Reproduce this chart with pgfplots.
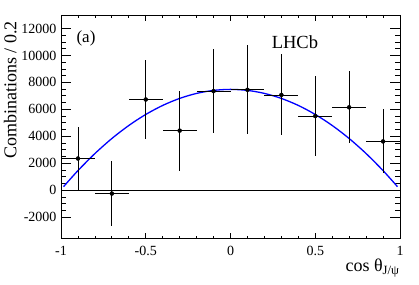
\documentclass[border=0pt]{standalone}
\usepackage{fontspec}
\setmainfont{Liberation Serif}
\usepackage{pgfplots}
\usepackage{pgfplotstable}
\pgfplotsset{compat=1.18}

\pgfplotstableread{
x     y     ex   ey
-0.9  2350  0.1  2330
-0.7  -250  0.1  2420
-0.5  6730  0.1  2950
-0.3  4420  0.1  2970
-0.1  7350  0.1  3100
0.1   7450  0.1  3300
0.3   7070  0.1  3010
0.5   5500  0.1  2960
0.7   6150  0.1  2680
0.9   3620  0.1  2380
}\datatable

\begin{document}
\begin{tikzpicture}
\useasboundingbox (-61pt,-45.3pt) rectangle (358pt,238.7pt);
\begin{axis}[
  at={(0,0)}, anchor=south west,
  scale only axis,
  width=339pt, height=223.7pt,
  xmin=-1, xmax=1,
  ymin=-3600, ymax=13000,
  xtick={-1,-0.5,0,0.5,1},
  xticklabels={-1,-0.5,0,0.5,1},
  ytick={-2000,0,2000,4000,6000,8000,10000,12000},
  yticklabels={-2000,0,2000,4000,6000,8000,10000,12000},
  minor x tick num=4,
  minor y tick num=3,
  scaled y ticks=false,
  tick align=inside,
  axis line style={line width=0.9pt},
  every tick/.style={black, line width=0.8pt},
  xtick style={/pgfplots/major tick length=6pt, /pgfplots/minor tick length=3pt},
  ytick style={/pgfplots/major tick length=10pt, /pgfplots/minor tick length=5pt},
  tick label style={font=\fontsize{14}{14}\selectfont},
  xticklabel style={yshift=-4pt},
  yticklabel style={xshift=-1pt},
  xlabel={cos θ\textsubscript{J/ψ}},
  xlabel style={font=\fontsize{18}{18}\selectfont, at={(axis description cs:1.009,-0.1475)}, anchor=base east},
  ylabel={Combinations / 0.2},
  ylabel style={font=\fontsize{18}{18}\selectfont, at={(axis description cs:-0.150,0.665)}, anchor=center},
  clip=false,
]
\addplot[black, line width=0.8pt, forget plot] coordinates {(-1,0) (1,0)};
\addplot[blue, line width=1.3pt, smooth] coordinates {
(-0.985,261.5) (-0.9,1453.6) (-0.8,2718.4) (-0.7,3834.4) (-0.6,4801.6)
(-0.5,5620) (-0.4,6289.6) (-0.3,6810.4) (-0.2,7182.4) (-0.1,7405.6)
(0,7480) (0.1,7405.6) (0.2,7182.4) (0.3,6810.4) (0.4,6289.6)
(0.5,5620) (0.6,4801.6) (0.7,3834.4) (0.8,2718.4) (0.9,1453.6) (0.985,261.5)
};
\addplot[black, only marks, mark=*, mark size=2pt,
  error bars/.cd, x dir=both, x explicit, y dir=both, y explicit,
  error mark=none, error bar style={line width=0.8pt, black}]
  table[x=x, y=y, x error=ex, y error=ey] {\datatable};
\node[font=\fontsize{17}{17}\selectfont] at (axis description cs:0.0737,0.896) {(a)};
\node[font=\fontsize{18.5}{18.5}\selectfont] at (axis description cs:0.690,0.878) {LHCb};
\end{axis}
\end{tikzpicture}
\end{document}
